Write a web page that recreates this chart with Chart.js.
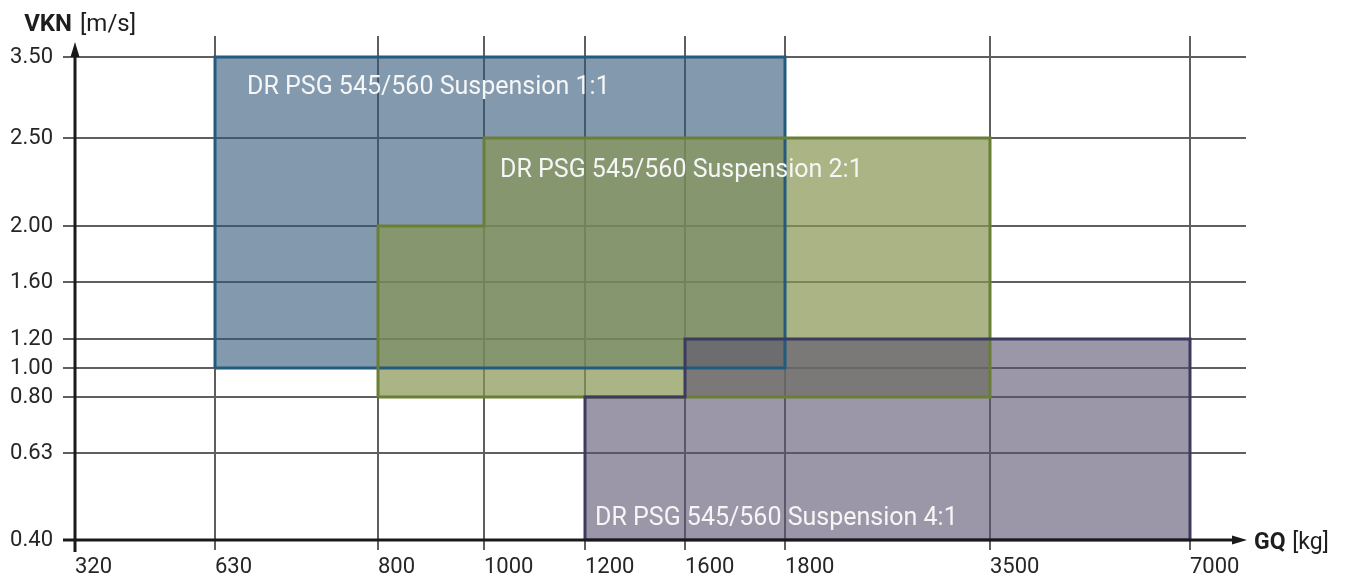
<!DOCTYPE html>
<html>
<head>
<meta charset="utf-8">
<script src="https://cdn.jsdelivr.net/npm/chart.js@4/dist/chart.umd.min.js"></script>
<style>
  html, body { margin: 0; padding: 0; background: #ffffff; }
  #wrap { width: 1352px; height: 581px; position: relative; }
</style>
</head>
<body>
<div id="wrap"><canvas id="c"></canvas></div>
<script>
// ---------- data ----------
const xTickLabels = [320, 630, 800, 1000, 1200, 1600, 1800, 3500, 7000];
const yTickLabels = [0.40, 0.63, 0.80, 1.00, 1.20, 1.60, 2.00, 2.50, 3.50];
const seriesNames = [
  'DR PSG 545/560 Suspension 1:1',
  'DR PSG 545/560 Suspension 2:1',
  'DR PSG 545/560 Suspension 4:1'
];
const s11GQ  = [630, 630, 1800, 1800, 630];
const s11VKN = [1.00, 3.50, 3.50, 1.00, 1.00];
const s21GQ  = [800, 800, 1000, 1000, 3500, 3500, 800];
const s21VKN = [0.80, 2.00, 2.00, 2.50, 2.50, 0.80, 0.80];
const s41GQ  = [1200, 1200, 1600, 1600, 7000, 7000, 1200];
const s41VKN = [0.40, 0.80, 0.80, 1.20, 1.20, 0.40, 0.40];
const xAxisEnd = 7600;   // scale extent beyond last tick (arrow room)
const yAxisEnd = 3.80;

// ---------- piecewise scale (non-uniform tick spacing) ----------
class PiecewiseScale extends Chart.Scale {
  static id = 'piecewise';
  static defaults = {};
  parse(raw) { return raw == null ? null : +raw; }
  determineDataLimits() {
    const b = this.options.breaks;
    this.min = b[0];
    this.max = b[b.length - 1];
  }
  buildTicks() {
    return this.options.tickValues.map(v => ({ value: v }));
  }
  getLabelForValue(v) { return String(v); }
  configure() {
    super.configure();
    const w = this.options.weights;
    const tot = w.reduce((a, c) => a + c, 0);
    let acc = 0;
    this._fr = [0];
    for (const v of w) { acc += v; this._fr.push(acc / tot); }
  }
  getPixelForValue(value) {
    if (value == null || isNaN(value)) return NaN;
    const b = this.options.breaks, f = this._fr;
    let i = 0;
    while (i < b.length - 2 && value > b[i + 1]) i++;
    const t = (value - b[i]) / (b[i + 1] - b[i]);
    return this.getPixelForDecimal(f[i] + t * (f[i + 1] - f[i]));
  }
  getValueForPixel(pixel) {
    const d = this.getDecimalForPixel(pixel);
    const b = this.options.breaks, f = this._fr;
    let i = 0;
    while (i < f.length - 2 && d > f[i + 1]) i++;
    const t = (d - f[i]) / (f[i + 1] - f[i]);
    return b[i] + t * (b[i + 1] - b[i]);
  }
}
Chart.register(PiecewiseScale);

const pts = (xs, ys) => xs.map((x, i) => ({ x: x, y: ys[i] }));

const FONT = 'Roboto, "DejaVu Sans", sans-serif';
const fills   = ['rgba(47,85,120,0.60)', 'rgba(135,149,83,0.71)', 'rgba(90,82,110,0.60)'];
const borders = ['#235b7d', '#6a7f36', '#3d3a60'];
const shapes  = [pts(s11GQ, s11VKN), pts(s21GQ, s21VKN), pts(s41GQ, s41VKN)];

const datasets = [];
shapes.forEach((d, i) => {
  datasets.push({
    label: seriesNames[i], data: d, order: 10 - i,
    fill: 'shape', backgroundColor: fills[i], borderWidth: 0,
    borderColor: 'rgba(0,0,0,0)', pointRadius: 0, tension: 0
  });
});
shapes.forEach((d, i) => {
  datasets.push({
    label: seriesNames[i] + ' outline', data: d, order: 5 - i,
    fill: false, borderColor: borders[i], borderWidth: 3,
    borderJoinStyle: 'miter', pointRadius: 0, tension: 0
  });
});

// ---------- plugin: axes with arrows, axis titles, area labels ----------
const decorPlugin = {
  id: 'decor',
  afterDatasetsDraw(chart, args, opts) {
    const ctx = chart.ctx;
    const xs = chart.scales.x, ys = chart.scales.y;
    const a = chart.chartArea;
    const x0 = xs.getPixelForValue(xTickLabels[0]);
    const y0 = ys.getPixelForValue(yTickLabels[0]);
    ctx.save();
    // area labels
    ctx.fillStyle = '#f6f6f6';
    ctx.font = '25px ' + FONT;
    ctx.textAlign = 'left';
    ctx.textBaseline = 'alphabetic';
    opts.labels.forEach((l, i) => {
      ctx.fillText(seriesNames[i], xs.getPixelForValue(l.x) + l.dx, ys.getPixelForValue(l.y) + l.dy);
    });
    // axes
    ctx.strokeStyle = '#1a1a1a';
    ctx.fillStyle = '#1a1a1a';
    ctx.lineWidth = 3;
    ctx.lineCap = 'butt';
    const arrowBaseY = a.top + 20, xRight = a.right;
    ctx.beginPath();
    ctx.moveTo(x0, y0 + 12);
    ctx.lineTo(x0, arrowBaseY);
    ctx.moveTo(x0 - 12, y0);
    ctx.lineTo(xRight - 13, y0);
    ctx.stroke();
    ctx.beginPath();
    ctx.moveTo(x0, a.top + 6);
    ctx.lineTo(x0 - 4.5, a.top + 21);
    ctx.lineTo(x0 + 4.5, a.top + 21);
    ctx.closePath();
    ctx.fill();
    ctx.beginPath();
    ctx.moveTo(xRight + 1, y0);
    ctx.lineTo(xRight - 14, y0 - 4.5);
    ctx.lineTo(xRight - 14, y0 + 4.5);
    ctx.closePath();
    ctx.fill();
    // axis titles
    ctx.fillStyle = '#1e1e1e';
    ctx.textBaseline = 'alphabetic';
    ctx.font = 'bold 24px ' + FONT;
    ctx.textAlign = 'right';
    ctx.fillText('VKN', x0 - 3, 31);
    ctx.font = '24px ' + FONT;
    ctx.textAlign = 'left';
    ctx.fillText('[m/s]', x0 + 5, 31);
    ctx.font = 'bold 23px ' + FONT;
    const gqX = xRight + 8;
    ctx.fillText('GQ', gqX, y0 + 9);
    const gw = ctx.measureText('GQ ').width;
    ctx.font = '23px ' + FONT;
    ctx.fillText('[kg]', gqX + gw + 1, y0 + 9);
    ctx.restore();
  }
};

const gridColor = c => c.index === 0 ? 'rgba(0,0,0,0)' : '#5f5f5f';

new Chart(document.getElementById('c'), {
  type: 'line',
  data: { datasets: datasets },
  plugins: [decorPlugin],
  options: {
    responsive: true,
    maintainAspectRatio: false,
    animation: false,
    events: [],
    layout: { padding: { left: 0, top: 36, right: 106, bottom: 0 } },
    plugins: {
      legend: { display: false },
      tooltip: { enabled: false },
      decor: {
        labels: [
          { x: 630,  y: 3.50, dx: 32, dy: 37 },
          { x: 1000, y: 2.50, dx: 16, dy: 39 },
          { x: 1200, y: 0.40, dx: 10, dy: -15 }
        ]
      }
    },
    scales: {
      x: {
        type: 'piecewise',
        breaks: xTickLabels.concat([xAxisEnd]),
        weights: [140, 163, 106, 101, 100, 100, 205, 200, 56],
        tickValues: xTickLabels,
        border: { display: false },
        grid: { color: gridColor, lineWidth: 2, tickLength: 10, drawTicks: true },
        ticks: {
          align: 'start', padding: 4, color: '#262626',
          font: { family: FONT, size: 22 },
          maxRotation: 0, autoSkip: false,
          callback: v => String(v)
        },
        afterFit: s => { s.height = 41; }
      },
      y: {
        type: 'piecewise',
        breaks: yTickLabels.concat([yAxisEnd]),
        weights: [87, 56, 29, 29, 57, 56, 88, 81, 21],
        tickValues: yTickLabels,
        border: { display: false },
        grid: { color: gridColor, lineWidth: 2, tickLength: 12, drawTicks: true },
        ticks: {
          padding: 10, color: '#262626',
          font: { family: FONT, size: 22 },
          autoSkip: false,
          callback: v => Number(v).toFixed(2)
        },
        afterFit: s => { s.width = 75; }
      }
    }
  }
});
</script>
</body>
</html>
